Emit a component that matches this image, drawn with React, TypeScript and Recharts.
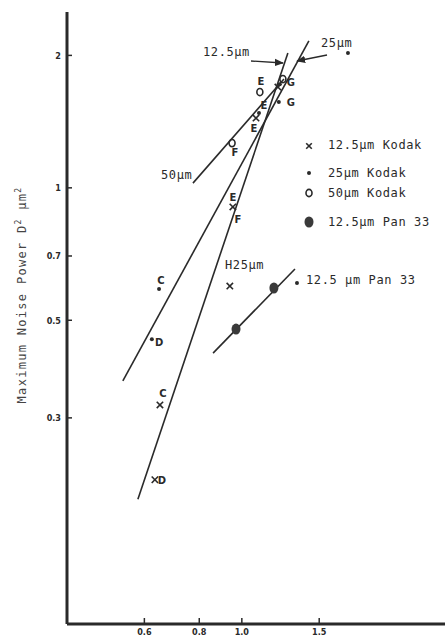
import { Scatter, ScatterChart, XAxis, YAxis } from "recharts"

/* ---------- data (log-log axes) ---------- */
const xTicks = [0.6, 0.8, 1.0, 1.5]
const yTicks = [0.3, 0.5, 0.7, 1, 2]

// fitted lines: two end points each
const line125 = [
  { x: 0.58, y: 0.196 },
  { x: 1.273, y: 2.025 },
]
const line25 = [
  { x: 0.536, y: 0.364 },
  { x: 1.421, y: 2.157 },
]
const line50 = [
  { x: 0.774, y: 1.025 },
  { x: 1.247, y: 1.767 },
]
const linePan = [
  { x: 0.86, y: 0.421 },
  { x: 1.321, y: 0.654 },
]

// measured points
const kodak125 = [
  { x: 0.634, y: 0.217 },
  { x: 0.651, y: 0.321 },
  { x: 0.939, y: 0.598 },
  { x: 0.954, y: 0.905 },
  { x: 1.077, y: 1.441 },
  { x: 1.208, y: 1.695 },
]
const kodak25 = [
  { x: 0.624, y: 0.453 },
  { x: 0.648, y: 0.589 },
  { x: 1.094, y: 1.479 },
  { x: 1.214, y: 1.567 },
  { x: 1.22, y: 1.72 },
  { x: 1.335, y: 0.608 },
  { x: 1.744, y: 2.025 },
]
const kodak50 = [
  { x: 0.95, y: 1.264 },
  { x: 1.099, y: 1.651 },
  { x: 1.24, y: 1.767 },
]
const pan33 = [
  { x: 0.97, y: 0.4775 },
  { x: 1.183, y: 0.592 },
]

// point letters
const letters = [
  { x: 1.105, y: 1.749, t: "E" },
  { x: 1.123, y: 1.535, t: "E" },
  { x: 1.065, y: 1.367, t: "E" },
  { x: 0.965, y: 1.206, t: "F" },
  { x: 1.293, y: 1.74, t: "G" },
  { x: 1.293, y: 1.567, t: "G" },
  { x: 0.954, y: 0.953, t: "E" },
  { x: 0.98, y: 0.849, t: "F" },
  { x: 0.654, y: 0.617, t: "C" },
  { x: 0.648, y: 0.444, t: "D" },
  { x: 0.661, y: 0.3416, t: "C" },
  { x: 0.658, y: 0.2156, t: "D" },
]

const legendItems = ["12.5µm Kodak", "25µm Kodak", "50µm Kodak", "12.5µm Pan 33"]

const ink = "#2a2a2a"
const mono = "'DejaVu Sans Mono', monospace"

/* ---------- marker shapes ---------- */
const Cross = ({ cx, cy, s = 3.2 }: any) => (
  <g stroke={ink} strokeWidth={1.6}>
    <line x1={cx - s} y1={cy - s} x2={cx + s} y2={cy + s} />
    <line x1={cx - s} y1={cy + s} x2={cx + s} y2={cy - s} />
  </g>
)
const Dot = ({ cx, cy }: any) => <circle cx={cx} cy={cy} r={2} fill={ink} />
const Ring = ({ cx, cy }: any) => <ellipse cx={cx} cy={cy} rx={3} ry={3.6} fill="none" stroke={ink} strokeWidth={1.6} />
const Blob = ({ cx, cy }: any) => <ellipse cx={cx} cy={cy} rx={4.5} ry={5.5} fill="#3a3a3a" />
const Letter = ({ cx, cy, payload }: any) => (
  <text x={cx} y={cy + 3.5} textAnchor="middle" fontSize={10} fontWeight="700" fontFamily="'DejaVu Sans', sans-serif" fill={ink}>
    {payload.t}
  </text>
)
const Nothing = () => <g />

/* ---------- axis ticks (pointing inward) ---------- */
const XTick = ({ x, y, payload }: any) => (
  <g>
    <line x1={x} y1={y} x2={x} y2={y - 6} stroke={ink} strokeWidth={1.5} />
    <text x={x} y={y + 11} textAnchor="middle" fontSize={9} fontWeight="700" fontFamily="'DejaVu Sans Condensed', 'DejaVu Sans', sans-serif" fill={ink}>
      {payload.value.toFixed(1)}
    </text>
  </g>
)
const YTick = ({ x, y, payload }: any) => (
  <g>
    <line x1={x} y1={y} x2={x + 5} y2={y} stroke={ink} strokeWidth={1.5} />
    <text x={x - 6} y={y + 3.5} textAnchor="end" fontSize={9} fontWeight="700" fontFamily="'DejaVu Sans Condensed', 'DejaVu Sans', sans-serif" fill={ink}>
      {payload.value < 1 ? payload.value.toFixed(1) : payload.value}
    </text>
  </g>
)

const lineStyle = { stroke: ink, strokeWidth: 1.6 }

export default function App() {
  return (
    <div style={{ position: "relative", width: 445, height: 639, background: "#fff" }}>
      <style>{"body{margin:0}"}</style>
      <ScatterChart width={445} height={639} margin={{ top: 12, right: 0, bottom: 0, left: 0 }}>
        <XAxis
          dataKey="x"
          type="number"
          scale="log"
          domain={[0.4, 2.9]}
          allowDataOverflow
          ticks={xTicks}
          height={15}
          tickSize={0}
          tickMargin={0}
          tickLine={false}
          tick={<XTick />}
          axisLine={{ stroke: ink, strokeWidth: 3 }}
        />
        <YAxis
          dataKey="y"
          type="number"
          scale="log"
          domain={[0.102, 2.51]}
          allowDataOverflow
          ticks={yTicks}
          width={67}
          tickSize={0}
          tickMargin={0}
          tickLine={false}
          tick={<YTick />}
          axisLine={{ stroke: ink, strokeWidth: 3 }}
        />
        <Scatter data={line125} line={lineStyle} shape={<Nothing />} isAnimationActive={false} />
        <Scatter data={line25} line={lineStyle} shape={<Nothing />} isAnimationActive={false} />
        <Scatter data={line50} line={lineStyle} shape={<Nothing />} isAnimationActive={false} />
        <Scatter data={linePan} line={lineStyle} shape={<Nothing />} isAnimationActive={false} />
        <Scatter data={kodak125} shape={<Cross />} isAnimationActive={false} />
        <Scatter data={kodak25} shape={<Dot />} isAnimationActive={false} />
        <Scatter data={kodak50} shape={<Ring />} isAnimationActive={false} />
        <Scatter data={pan33} shape={<Blob />} isAnimationActive={false} />
        <Scatter data={letters} shape={<Letter />} isAnimationActive={false} />
      </ScatterChart>

      {/* annotations and legend */}
      <svg width={445} height={639} style={{ position: "absolute", left: 0, top: 0, pointerEvents: "none" }}>
        <defs>
          <marker id="ah" viewBox="0 0 10 10" refX="9" refY="5" markerWidth="7" markerHeight="7" orient="auto-start-reverse">
            <path d="M0,1 L10,5 L0,9 z" fill={ink} />
          </marker>
        </defs>
        <g fontFamily={mono} fontSize={12} letterSpacing={0.6} fill={ink}>
          <text x={203} y={56}>12.5µm</text>
          <line x1={251} y1={61} x2={283} y2={63} stroke={ink} strokeWidth={1.3} markerEnd="url(#ah)" />
          <text x={321} y={47}>25µm</text>
          <line x1={327} y1={55} x2={297} y2={61} stroke={ink} strokeWidth={1.3} markerEnd="url(#ah)" />
          <text x={161} y={179}>50µm</text>
          <text x={225} y={269}>H25µm</text>
          <text x={306} y={284}>12.5 µm Pan 33</text>

          {legendItems.map((s, i) => (
            <text key={s} x={328} y={[149, 177, 197, 226][i]}>
              {s}
            </text>
          ))}
        </g>
        <Cross cx={309} cy={146} s={2.8} />
        <Dot cx={309} cy={173} />
        <Ring cx={309} cy={193} />
        <Blob cx={309} cy={222} />

        <text
          transform="translate(26 295) rotate(-90)"
          textAnchor="middle"
          fontFamily={mono}
          fontSize={12}
          letterSpacing={1.3}
          fill="#444"
        >
          Maximum Noise Power  D<tspan dy={-5} fontSize={8}>2</tspan>
          <tspan dy={5}> µm</tspan>
          <tspan dy={-5} fontSize={8}>2</tspan>
        </text>
      </svg>
    </div>
  )
}
